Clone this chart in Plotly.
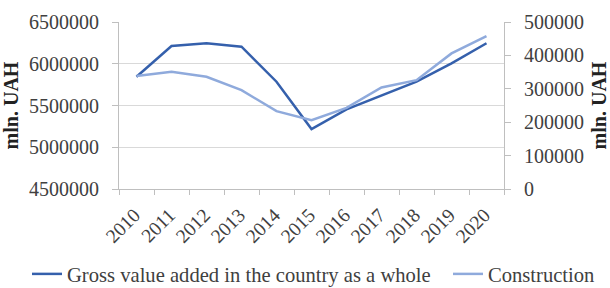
import plotly.graph_objects as go

years = ["2010", "2011", "2012", "2013", "2014", "2015", "2016", "2017", "2018", "2019", "2020"]
gva_total = [5845000, 6212000, 6245000, 6204000, 5785000, 5218000, 5454000, 5617000, 5785000, 6005000, 6245000]
construction = [338000, 351000, 336000, 296000, 233000, 206000, 243000, 304000, 326000, 406000, 458000]

left_ticks = [4500000, 5000000, 5500000, 6000000, 6500000]
right_ticks = [0, 100000, 200000, 300000, 400000, 500000]

FONT = "Liberation Serif"
TXT = "#404040"

fig = go.Figure()
fig.add_trace(go.Scatter(
    x=years, y=gva_total, mode="lines",
    name="Gross value added in the country as a whole",
    line=dict(color="#3560AC", width=2.5), yaxis="y", legend="legend"))
fig.add_trace(go.Scatter(
    x=years, y=construction, mode="lines",
    name="Construction",
    line=dict(color="#8FAADC", width=2.5), yaxis="y2", legend="legend2"))

leg_common = dict(orientation="h", yanchor="middle", y=(288 - 274) / 288, yref="container",
                  xanchor="left", xref="container",
                  font=dict(family=FONT, size=20.6, color=TXT),
                  bgcolor="rgba(0,0,0,0)", borderwidth=0)

fig.update_layout(
    width=610, height=288,
    margin=dict(l=119, r=106, t=22, b=99, autoexpand=False),
    paper_bgcolor="white", plot_bgcolor="white",
    font=dict(family=FONT, size=20, color=TXT),
    showlegend=True,
    legend=dict(x=27 / 610, **leg_common),
    legend2=dict(x=448 / 610, **leg_common),
    xaxis=dict(type="category", range=[-0.5, len(years) - 0.5],
               tickangle=-45, showgrid=False, automargin=False,
               showline=True, linecolor="#BFBFBF", linewidth=1,
               ticks="outside", tickson="boundaries", ticklen=5, tickcolor="#BFBFBF",
               ticklabelstandoff=6, ticklabelshift=-2,
               tickfont=dict(family=FONT, size=19.5, color=TXT)),
    yaxis=dict(range=[4500000, 6500000], tickvals=left_ticks, automargin=False,
               ticktext=[str(v) for v in left_ticks],
               showgrid=True, gridcolor="#D9D9D9", gridwidth=1,
               showline=True, linecolor="#BFBFBF", linewidth=1,
               ticks="outside", ticklen=6, tickcolor="#BFBFBF",
               ticklabelstandoff=9, zeroline=False,
               tickfont=dict(family=FONT, size=20, color=TXT),
               title=dict(text="<b>mln. UAH</b>", standoff=6,
                          font=dict(family=FONT, size=20, color="#222"))),
    yaxis2=dict(range=[0, 500000], tickvals=right_ticks, automargin=False,
                ticktext=[str(v) for v in right_ticks],
                overlaying="y", side="right", showgrid=False,
                showline=True, linecolor="#BFBFBF", linewidth=1,
                ticks="outside", ticklen=6, tickcolor="#BFBFBF",
                ticklabelstandoff=9, zeroline=False,
                tickfont=dict(family=FONT, size=20, color=TXT),
                title=dict(text="<b>mln. UAH</b>", standoff=8,
                           font=dict(family=FONT, size=20, color="#222"))),
)

fig.write_html("out.html", config={"displayModeBar": False},
               post_script="document.body.style.margin='0';")
